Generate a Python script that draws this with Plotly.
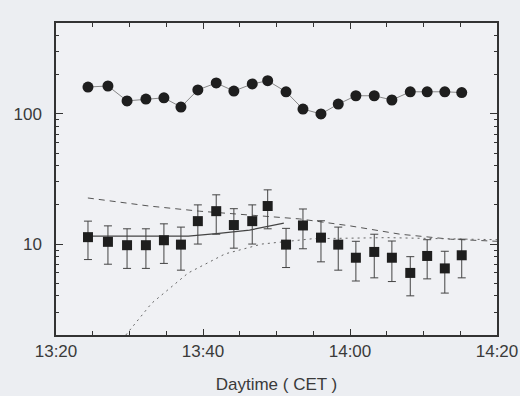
import plotly.graph_objects as go
import numpy as np

DAY = "2000-01-01 "

# measurement times (CET)
times = ["13:24:21", "13:27:04", "13:29:40", "13:32:14", "13:34:41", "13:37:00",
         "13:39:18", "13:41:48", "13:44:12", "13:46:42", "13:48:48", "13:51:18",
         "13:53:36", "13:56:03", "13:58:24", "14:00:48", "14:03:18", "14:05:42",
         "14:08:12", "14:10:30", "14:12:54", "14:15:12"]

# upper series (circles)
upper_vals = [161, 164, 126, 130, 133, 113, 153, 173, 150, 170, 180, 148,
              109, 100, 119, 138, 138, 128, 148, 148, 148, 146]
upper_err = [11, 11, 9, 9, 9, 8, 10, 12, 10, 11, 12, 10,
             8, 7, 8, 9, 9, 9, 10, 10, 10, 10]

# lower series (squares)
lower_vals = [11.3, 10.4, 9.8, 9.8, 10.7, 9.9, 15.0, 17.9, 14.0, 15.0, 19.6, 9.9,
              13.9, 11.2, 9.9, 7.85, 8.7, 7.85, 6.0, 8.1, 6.5, 8.2]
lower_err = [3.7, 3.4, 3.3, 3.3, 3.6, 3.6, 5.0, 6.0, 4.7, 5.0, 6.5, 3.3,
             4.7, 3.9, 3.6, 2.65, 3.2, 2.7, 2.0, 2.7, 2.3, 2.7]

# dashed curve
dash_t = ["13:24:20", "13:32:40", "13:39:30", "13:46:20", "13:53:10", "14:00:00",
          "14:06:50", "14:13:40", "14:20:00"]
dash_v = [22.6, 19.6, 17.9, 16.7, 15.6, 13.8, 11.9, 10.9, 10.5]

# dotted curve
dot_t = ["13:29:30", "13:33:00", "13:38:00", "13:43:00", "13:48:00", "13:55:00",
         "14:05:00", "14:20:00"]
dot_v = [2.0, 3.5, 6.0, 8.4, 10.0, 11.0, 11.2, 10.8]

# solid curve
solid_t = ["13:24:20", "13:38:00", "13:42:10", "13:46:20", "13:51:00"]
solid_v = [11.5, 11.5, 12.1, 12.8, 14.5]

# axis ticks
x_major = ["13:20", "13:40", "14:00", "14:20"]
x_minor = ["13:25", "13:30", "13:35", "13:45", "13:50", "13:55",
           "14:05", "14:10", "14:15"]
y_major = [10, 100]
y_minor = [2, 3, 4, 5, 6, 7, 8, 9, 20, 30, 40, 50, 60, 70, 80, 90, 200, 300, 400]

def dt(lst):
    return [DAY + s for s in lst]

XR = [DAY + "13:20", DAY + "14:20"]
YR = [np.log10(2), np.log10(500)]
AX = "#333"

fig = go.Figure()

fig.add_trace(go.Scatter(x=dt(dash_t), y=dash_v, mode="lines",
                         line=dict(color="#555", width=1, dash="6px,5px"),
                         showlegend=False))
fig.add_trace(go.Scatter(x=dt(dot_t), y=dot_v, mode="lines",
                         line=dict(color="#666", width=1, dash="2px,4px"),
                         showlegend=False))
fig.add_trace(go.Scatter(x=dt(solid_t), y=solid_v, mode="lines",
                         line=dict(color="#444", width=1.2),
                         showlegend=False))

fig.add_trace(go.Scatter(x=dt(times), y=upper_vals, mode="lines+markers",
                         line=dict(color="#888", width=1),
                         marker=dict(symbol="circle", size=11, color="#1e1e1e"),
                         error_y=dict(type="data", array=upper_err, color="#444",
                                      thickness=1, width=3),
                         showlegend=False))
fig.add_trace(go.Scatter(x=dt(times), y=lower_vals, mode="markers",
                         marker=dict(symbol="square", size=10, color="#1e1e1e"),
                         error_y=dict(type="data", array=lower_err, color="#444",
                                      thickness=1, width=4),
                         showlegend=False))

# invisible trace to hold the minor-tick axes
fig.add_trace(go.Scatter(x=[XR[0]], y=[10], xaxis="x2", yaxis="y2", mode="markers",
                         marker=dict(opacity=0), showlegend=False, hoverinfo="skip"))

fig.update_layout(
    width=520, height=396,
    margin=dict(l=56, r=23, t=23, b=61, autoexpand=False),
    paper_bgcolor="#eceef2", plot_bgcolor="#f0f1f4",
    font=dict(family="Liberation Sans, Arial, sans-serif", size=17, color="#3a3a3a"),
    xaxis=dict(
        type="date", range=XR, automargin=False,
        tickvals=dt(x_major), tickformat="%H:%M",
        ticks="inside", ticklen=6, tickcolor=AX, tickwidth=1.2,
        showline=True, linecolor=AX, linewidth=1.5, mirror="ticks",
        showgrid=False, zeroline=False,
        title=dict(text="Daytime ( CET )", font=dict(size=17), standoff=18),
    ),
    yaxis=dict(
        type="log", range=YR, automargin=False,
        tickvals=y_major, ticktext=[str(v) for v in y_major],
        ticks="inside", ticklen=7, tickcolor=AX, tickwidth=1.2,
        ticklabelstandoff=9,
        showline=True, linecolor=AX, linewidth=1.5, mirror="ticks",
        showgrid=False, zeroline=False,
    ),
    xaxis2=dict(
        type="date", range=XR, overlaying="x", anchor="y2",
        tickvals=dt(x_minor), showticklabels=False,
        ticks="inside", ticklen=4, tickcolor=AX, tickwidth=1,
        showline=False, mirror="ticks", showgrid=False, zeroline=False,
    ),
    yaxis2=dict(
        type="log", range=YR, overlaying="y", anchor="x2",
        tickvals=y_minor, showticklabels=False,
        ticks="inside", ticklen=3, tickcolor=AX, tickwidth=1,
        showline=False, mirror="ticks", showgrid=False, zeroline=False,
    ),
)

fig.write_html("out.html")
